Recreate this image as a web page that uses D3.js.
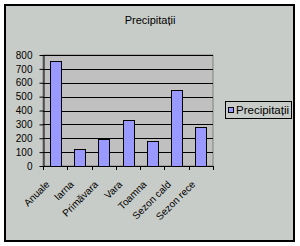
<!DOCTYPE html>
<html>
<head>
<meta charset="utf-8">
<script src="https://cdn.jsdelivr.net/npm/d3@7"></script>
<style>
  body { margin: 0; background: #fff; }
  text { font-family: "Liberation Sans", Arial, sans-serif; fill: #000; }
</style>
</head>
<body>
<div id="chart"></div>
<script>
// chart data
const categories = ["Anuale", "Iarna", "Primăvara", "Vara", "Toamna", "Sezon cald", "Sezon rece"];
const values = [755, 125, 193, 329, 180, 546, 279];
const yTicks = [0, 100, 200, 300, 400, 500, 600, 700, 800];
const seriesName = "Precipitații";

const width = 300, height = 246;
const plot = { left: 43, right: 213, top: 55, bottom: 166 };

const svg = d3.select("#chart")
  .append("svg")
  .attr("width", width)
  .attr("height", height);

// chart area with border
svg.append("rect")
  .attr("x", 5).attr("y", 5)
  .attr("width", 289).attr("height", 236)
  .attr("fill", "#c8ccc8")
  .attr("stroke", "#000")
  .attr("stroke-width", 2);

// title
svg.append("text")
  .attr("x", 150).attr("y", 24)
  .attr("text-anchor", "middle")
  .style("font-size", "11px")
  .text(seriesName);

const x = d3.scaleBand()
  .domain(categories)
  .range([plot.left, plot.right])
  .padding(0);

const y = d3.scaleLinear()
  .domain([0, 800])
  .range([plot.bottom, plot.top]);

// plot area
svg.append("rect")
  .attr("x", plot.left).attr("y", plot.top)
  .attr("width", plot.right - plot.left)
  .attr("height", plot.bottom - plot.top)
  .attr("fill", "#c0c0c0")
  .attr("stroke", "#808080")
  .attr("stroke-width", 1);

// gridlines
svg.append("g")
  .selectAll("line")
  .data(yTicks.filter(d => d > 0))
  .enter()
  .append("line")
  .attr("x1", plot.left).attr("x2", plot.right)
  .attr("y1", d => Math.round(y(d)) + 0.5)
  .attr("y2", d => Math.round(y(d)) + 0.5)
  .attr("stroke", "#000")
  .attr("stroke-width", 1);

// bars
const barW = x.bandwidth() * 0.45;
svg.append("g")
  .selectAll("rect")
  .data(values)
  .enter()
  .append("rect")
  .attr("x", (d, i) => Math.round(x(categories[i]) + (x.bandwidth() - barW) / 2) + 0.5)
  .attr("y", d => Math.round(y(d)) + 0.5)
  .attr("width", Math.round(barW))
  .attr("height", d => Math.round(y(0)) - Math.round(y(d)))
  .attr("fill", "#9999ff")
  .attr("stroke", "#000")
  .attr("stroke-width", 1);

// y axis
const yAxis = svg.append("g")
  .attr("transform", `translate(${plot.left + 0.5},0)`)
  .call(d3.axisLeft(y).tickValues(yTicks).tickSize(4).tickPadding(7).tickSizeOuter(0));
yAxis.selectAll("text").style("font-size", "10px").style("font-family", "Liberation Sans, Arial, sans-serif");
yAxis.select(".domain").attr("stroke", "#000");

// x axis: ticks at category boundaries
const xAxis = svg.append("g");
xAxis.append("line")
  .attr("x1", plot.left).attr("x2", plot.right + 1)
  .attr("y1", plot.bottom + 0.5).attr("y2", plot.bottom + 0.5)
  .attr("stroke", "#000");
xAxis.selectAll("line.tick")
  .data(d3.range(categories.length + 1))
  .enter()
  .append("line")
  .attr("class", "tick")
  .attr("x1", i => Math.round(plot.left + i * x.step()) + 0.5)
  .attr("x2", i => Math.round(plot.left + i * x.step()) + 0.5)
  .attr("y1", plot.bottom).attr("y2", plot.bottom + 4)
  .attr("stroke", "#000");

// rotated category labels
xAxis.selectAll("text")
  .data(categories)
  .enter()
  .append("text")
  .attr("transform", d => `translate(${x(d) + x.bandwidth() / 2 - 5},185) rotate(-45)`)
  .attr("text-anchor", "end")
  .style("font-size", "10px")
  .text(d => d);

// legend
const legend = svg.append("g");
legend.append("rect")
  .attr("x", 225.5).attr("y", 101.5)
  .attr("width", 66).attr("height", 17)
  .attr("fill", "none")
  .attr("stroke", "#000");
legend.append("rect")
  .attr("x", 228.5).attr("y", 107.5)
  .attr("width", 5).attr("height", 5)
  .attr("fill", "#9999ff")
  .attr("stroke", "#000");
legend.append("text")
  .attr("x", 236).attr("y", 114)
  .style("font-size", "11.5px")
  .text(seriesName);
</script>
</body>
</html>
